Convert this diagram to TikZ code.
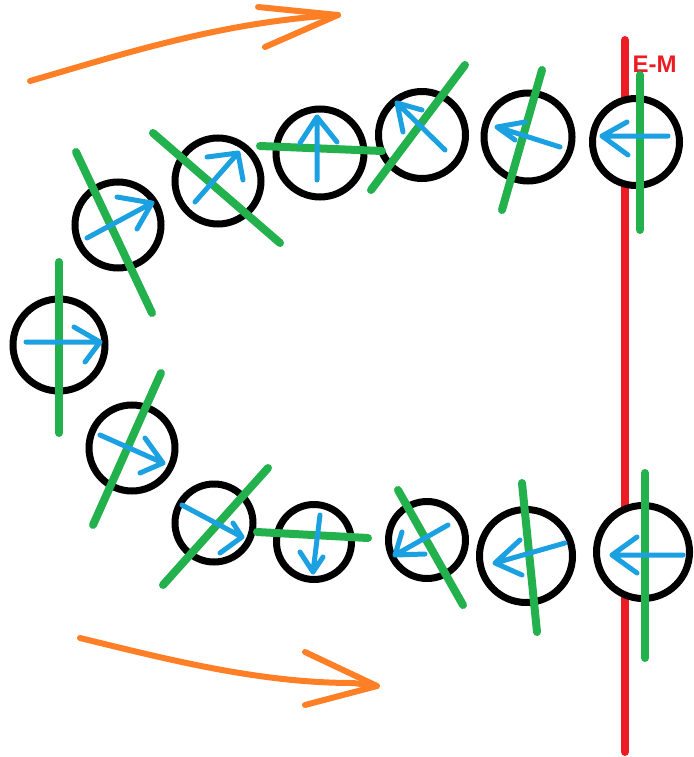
\documentclass[tikz,border=0pt]{standalone}
\usepackage{fontspec}
\setmainfont{Liberation Sans}
\definecolor{pgreen}{HTML}{22B14C}
\definecolor{pblue}{HTML}{1BA1E2}
\definecolor{pred}{HTML}{ED1C24}
\definecolor{porange}{HTML}{FF7F27}
\tikzset{
  ring/.style={circle, draw=black, line width=7pt, fill=white, inner sep=0pt, minimum size=#1},
  axisline/.style={draw=pgreen, line width=8pt, line cap=round},
  spin/.style={draw=pblue, line width=5pt, line cap=round, line join=round},
  flow/.style={draw=porange, line width=6pt, line cap=round, line join=round},
  wall/.style={draw=pred, line width=8pt, line cap=round}
}
\begin{document}
\begin{tikzpicture}[x=1pt,y=-1pt]
\useasboundingbox (0,0) rectangle (693,757);
% red wall
\coordinate (wt) at (625,40);
\coordinate (wb) at (625,752);
\draw[wall] (wt) -- (wb);
\node[text=pred, font=\bfseries\fontsize{24}{24}\selectfont, anchor=west] (em) at (629,64) {E-M};
% circles
\node[ring=92pt]  (c1)  at (59,345) {};
\node[ring=86pt]  (c2)  at (118,225) {};
\node[ring=86pt]  (c3)  at (218,181) {};
\node[ring=88pt]  (c4)  at (320,153) {};
\node[ring=87pt]  (c5)  at (422,135) {};
\node[ring=88pt]  (c6)  at (528,137) {};
\node[ring=87pt]  (c7)  at (636,142) {};
\node[ring=86pt]  (c8)  at (132,448) {};
\node[ring=78pt]  (c9)  at (214,523) {};
\node[ring=75pt]  (c10) at (314,542) {};
\node[ring=77pt]  (c11) at (427,540) {};
\node[ring=93pt]  (c12) at (526,556) {};
\node[ring=93pt]  (c13) at (643,552) {};
% green axis lines
\draw[axisline] (59,262) -- (59,433);
\draw[axisline] (76,152) -- (152,313);
\draw[axisline] (153,133) -- (280,243);
\draw[axisline] (260,146) -- (382,151);
\draw[axisline] (371,190) -- (465,65);
\draw[axisline] (502,210) -- (542,70);
\draw[axisline] (640,75) -- (640,230);
\draw[axisline] (161,373) -- (93,525);
\draw[axisline] (268,468) -- (163,585);
\draw[axisline] (257,532) -- (368,538);
\draw[axisline] (398,490) -- (463,605);
\draw[axisline] (522,483) -- (537,632);
\draw[axisline] (645,473) -- (645,658);
% blue spin arrows
\draw[spin] (26,342) -- (100,342) (74,327) -- (100,342) -- (85,362);
\draw[spin] (87,238) -- (152,203) (117,197) -- (152,203) -- (137,229);
\draw[spin] (195,202) -- (238,153) (207,157) -- (238,153) -- (243,180);
\draw[spin] (317,180) -- (317,117) (300,143) -- (317,117) -- (337,142);
\draw[spin] (445,150) -- (397,103) (422,110) -- (397,103) -- (403,132);
\draw[spin] (560,147) -- (497,127) (525,122) -- (497,127) -- (515,140);
\draw[spin] (668,136) -- (602,136) (627,122) -- (602,136) -- (628,155);
\draw[spin] (100,435) -- (163,463) (145,438) -- (163,463) -- (140,473);
\draw[spin] (182,505) -- (242,537) (233,523) -- (242,537) -- (220,553);
\draw[spin] (320,515) -- (313,572) (300,552) -- (313,572) -- (323,557);
\draw[spin] (448,525) -- (395,555) (402,532) -- (395,555) -- (425,554);
\draw[spin] (565,543) -- (495,563) (520,540) -- (495,563) -- (522,575);
\draw[spin] (683,555) -- (612,555) (637,537) -- (612,555) -- (637,573);
% orange flow arrows
\coordinate (fa1) at (30,81);
\coordinate (fa2) at (338,15);
\draw[flow] (fa1) .. controls (120,55) and (220,22) .. (fa2);
\draw[flow] (258,7) -- (fa2) -- (265,47);
\coordinate (fb1) at (80,638);
\coordinate (fb2) at (377,686);
\draw[flow] (fb1) .. controls (170,660) and (260,683) .. (353,683) -- (fb2);
\draw[flow] (305,652) -- (fb2) -- (305,705);
\end{tikzpicture}
\end{document}
